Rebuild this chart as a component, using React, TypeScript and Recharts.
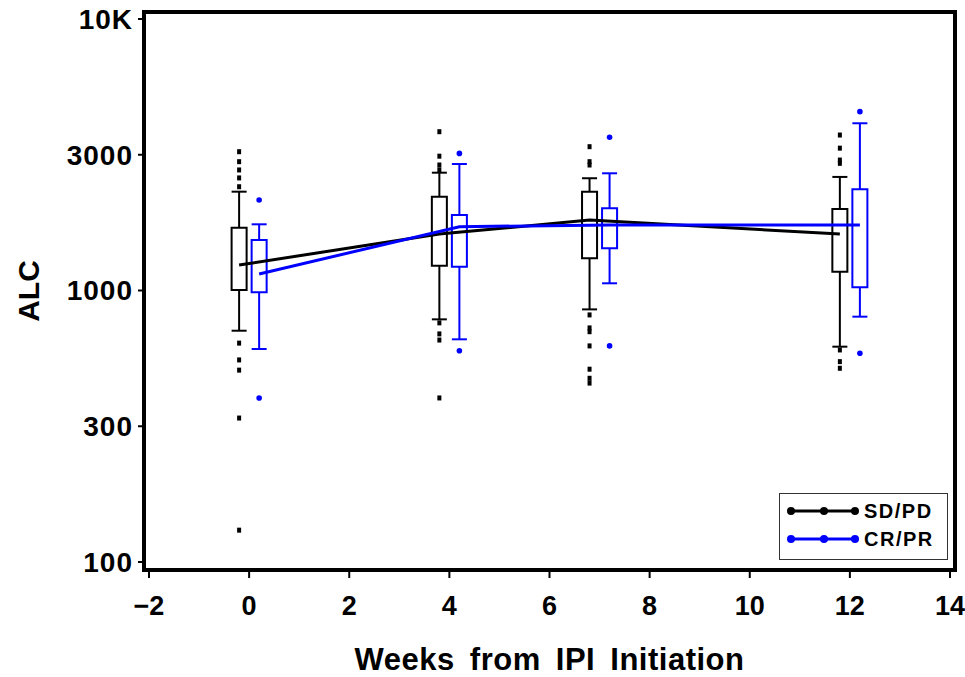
import {
  ComposedChart,
  ReferenceArea,
  ReferenceLine,
  Scatter,
  XAxis,
  YAxis,
} from "recharts";

// week of each visit; the two response groups sit side by side around it
const WEEKS = [0, 4, 7, 12];

const SDPD_LOW = [711, 783, 852, 621];
const SDPD_Q1 = [1004, 1234, 1314, 1173];
const SDPD_MEAN = [1241, 1614, 1817, 1614];
const SDPD_Q3 = [1703, 2216, 2312, 1997];
const SDPD_HIGH = [2312, 2716, 2591, 2620];
const SDPD_OUTLIERS = [
  [3245, 2982, 2780, 2598, 2411, 640, 555, 509, 339, 131],
  [3845, 3124, 2899, 2779, 760, 692, 657, 402],
  [3386, 2982, 2899, 813, 728, 705, 625, 513, 475, 456],
  [3738, 3344, 3023, 2940, 604, 547, 517],
];

const CRPR_LOW = [609, 661, 1063, 801];
const CRPR_Q1 = [985, 1224, 1430, 1027];
const CRPR_MEAN = [1150, 1718, 1743, 1743];
const CRPR_Q3 = [1535, 1897, 2009, 2359];
const CRPR_HIGH = [1753, 2923, 2702, 4130];
const CRPR_OUTLIERS = [
  [2154, 402],
  [3199, 600],
  [3667, 625],
  [4557, 587],
];

const X_TICKS = [-2, 0, 2, 4, 6, 8, 10, 12, 14];
const Y_TICKS = [100, 316.227766, 1000, 3162.27766, 10000];
const Y_TICK_LABELS = ["100", "300", "1000", "3000", "10K"];

const BLACK = "#000000";
const BLUE = "#0000ff";
const SHIFT = 0.2;
const HALF_BOX = 0.15;
const FONT = "'Liberation Sans', Arial, Helvetica, sans-serif";

const yTickStyle = {
  fill: "#000",
  fontSize: 28,
  fontWeight: "bold",
  fontFamily: FONT,
  letterSpacing: 1,
};

const xTickStyle = {
  fill: "#000",
  fontSize: 27,
  fontWeight: "bold",
  fontFamily: FONT,
};

const frameLine = { stroke: BLACK, strokeWidth: 4, strokeLinecap: "square" };

function boxes(
  key: string,
  color: string,
  shift: number,
  low: number[],
  q1: number[],
  q3: number[],
  high: number[]
) {
  const out: JSX.Element[] = [];
  WEEKS.forEach((w, i) => {
    const x = w + shift;
    out.push(
      <ReferenceArea
        key={`${key}-box-${i}`}
        x1={x - HALF_BOX}
        x2={x + HALF_BOX}
        y1={q1[i]}
        y2={q3[i]}
        fill="none"
        fillOpacity={0}
        stroke={color}
        strokeWidth={2}
        strokeOpacity={1}
      />
    );
    const segs: [number, number, number, number][] = [
      [x, q3[i], x, high[i]],
      [x, q1[i], x, low[i]],
      [x - HALF_BOX, high[i], x + HALF_BOX, high[i]],
      [x - HALF_BOX, low[i], x + HALF_BOX, low[i]],
    ];
    segs.forEach(([xa, ya, xb, yb], j) => {
      out.push(
        <ReferenceLine
          key={`${key}-seg-${i}-${j}`}
          segment={[
            { x: xa, y: ya },
            { x: xb, y: yb },
          ]}
          stroke={color}
          strokeWidth={2}
        />
      );
    });
  });
  return out;
}

const toPoints = (shift: number, lists: number[][]) =>
  WEEKS.flatMap((w, i) => lists[i].map((v) => ({ x: w + shift, y: v })));

const sdpdOutliers = toPoints(-SHIFT, SDPD_OUTLIERS);
const crprOutliers = toPoints(SHIFT, CRPR_OUTLIERS);
const sdpdMeans = WEEKS.map((w, i) => ({ x: w - SHIFT, y: SDPD_MEAN[i] }));
const crprMeans = WEEKS.map((w, i) => ({ x: w + SHIFT, y: CRPR_MEAN[i] }));

const NoDot = () => <g />;

const SquareDot = (props: { cx?: number; cy?: number }) => (
  <rect
    x={(props.cx ?? 0) - 2}
    y={(props.cy ?? 0) - 2.5}
    width={4}
    height={5}
    fill={BLACK}
  />
);

const RoundDot = (props: { cx?: number; cy?: number }) => (
  <circle cx={props.cx} cy={props.cy} r={2.8} fill={BLUE} />
);

function LegendRow({ color, label }: { color: string; label: string }) {
  return (
    <div style={{ display: "flex", alignItems: "center", height: 28 }}>
      <svg width={76} height={12} style={{ marginLeft: 5 }}>
        <line x1={4} y1={6} x2={72} y2={6} stroke={color} strokeWidth={3} />
        {[6, 39, 70].map((cx) => (
          <circle key={cx} cx={cx} cy={6} r={4} fill={color} />
        ))}
      </svg>
      <span
        style={{
          fontFamily: FONT,
          fontWeight: "bold",
          fontSize: 20,
          letterSpacing: 1.5,
          color: "#000",
          marginLeft: 3,
        }}
      >
        {label}
      </span>
    </div>
  );
}

export default function App() {
  return (
    <div
      style={{
        position: "absolute",
        left: 0,
        top: 0,
        width: 965,
        height: 677,
        background: "#fff",
      }}
    >
      <ComposedChart
        width={965}
        height={677}
        margin={{ top: 11, right: 9, bottom: 0, left: 0 }}
      >
        <XAxis
          type="number"
          dataKey="x"
          domain={[-2, 14]}
          ticks={X_TICKS}
          padding={{ left: 5, right: 5 }}
          height={107}
          tickSize={8}
          tickMargin={18}
          tick={xTickStyle}
          tickFormatter={(v: number) => (v < 0 ? `\u2212${-v}` : String(v))}
          axisLine={frameLine}
          tickLine={{ stroke: BLACK, strokeWidth: 2 }}
          label={({ viewBox }: { viewBox: { x: number; width: number; y: number } }) => (
            <text
              x={viewBox.x + viewBox.width / 2}
              y={viewBox.y + 100}
              textAnchor="middle"
              fontFamily={FONT}
              fontWeight="bold"
              fontSize={31}
              fill="#000"
              style={{ wordSpacing: 6, letterSpacing: 0.5 }}
            >
              Weeks from IPI Initiation
            </text>
          )}
        />
        <XAxis
          xAxisId="top"
          orientation="top"
          type="number"
          domain={[-2, 14]}
          height={1}
          tick={false}
          tickLine={false}
          axisLine={frameLine}
        />
        <YAxis
          type="number"
          dataKey="y"
          scale="log"
          domain={[100, 10000]}
          allowDataOverflow
          ticks={Y_TICKS}
          padding={{ top: 7, bottom: 8 }}
          width={144}
          tickSize={6}
          tickMargin={5}
          tick={yTickStyle}
          tickFormatter={(v: number) => {
            const i = Y_TICKS.findIndex((t) => Math.abs(t - v) < 1e-3 * t);
            return i >= 0 ? Y_TICK_LABELS[i] : "";
          }}
          axisLine={frameLine}
          tickLine={{ stroke: BLACK, strokeWidth: 2 }}
          label={({ viewBox }: { viewBox: { x: number; y: number; height: number } }) => {
            const cx = viewBox.x + 28;
            const cy = viewBox.y + viewBox.height / 2;
            return (
              <text
                x={cx}
                y={cy}
                textAnchor="middle"
                dominantBaseline="central"
                transform={`rotate(-90, ${cx}, ${cy})`}
                fontFamily={FONT}
                fontWeight="bold"
                fontSize={30}
                fill="#000"
              >
                ALC
              </text>
            );
          }}
        />
        <YAxis
          yAxisId="right"
          orientation="right"
          type="number"
          domain={[100, 10000]}
          scale="log"
          width={1}
          tick={false}
          tickLine={false}
          axisLine={frameLine}
        />

        {boxes("sdpd", BLACK, -SHIFT, SDPD_LOW, SDPD_Q1, SDPD_Q3, SDPD_HIGH)}
        {boxes("crpr", BLUE, SHIFT, CRPR_LOW, CRPR_Q1, CRPR_Q3, CRPR_HIGH)}

        <Scatter
          name="SD/PD outliers"
          data={sdpdOutliers}
          shape={SquareDot}
          isAnimationActive={false}
        />
        <Scatter
          name="CR/PR outliers"
          data={crprOutliers}
          shape={RoundDot}
          isAnimationActive={false}
        />
        <Scatter
          name="SD/PD"
          data={sdpdMeans}
          shape={NoDot}
          line={{ stroke: BLACK, strokeWidth: 3 }}
          lineType="joint"
          isAnimationActive={false}
        />
        <Scatter
          name="CR/PR"
          data={crprMeans}
          shape={NoDot}
          line={{ stroke: BLUE, strokeWidth: 3 }}
          lineType="joint"
          isAnimationActive={false}
        />
      </ComposedChart>

      <div
        style={{
          position: "absolute",
          left: 779,
          top: 493,
          width: 169,
          height: 67,
          border: "1.5px solid #333",
          boxSizing: "border-box",
          background: "#fff",
          paddingTop: 3,
        }}
      >
        <LegendRow color={BLACK} label="SD/PD" />
        <LegendRow color={BLUE} label="CR/PR" />
      </div>
    </div>
  );
}
